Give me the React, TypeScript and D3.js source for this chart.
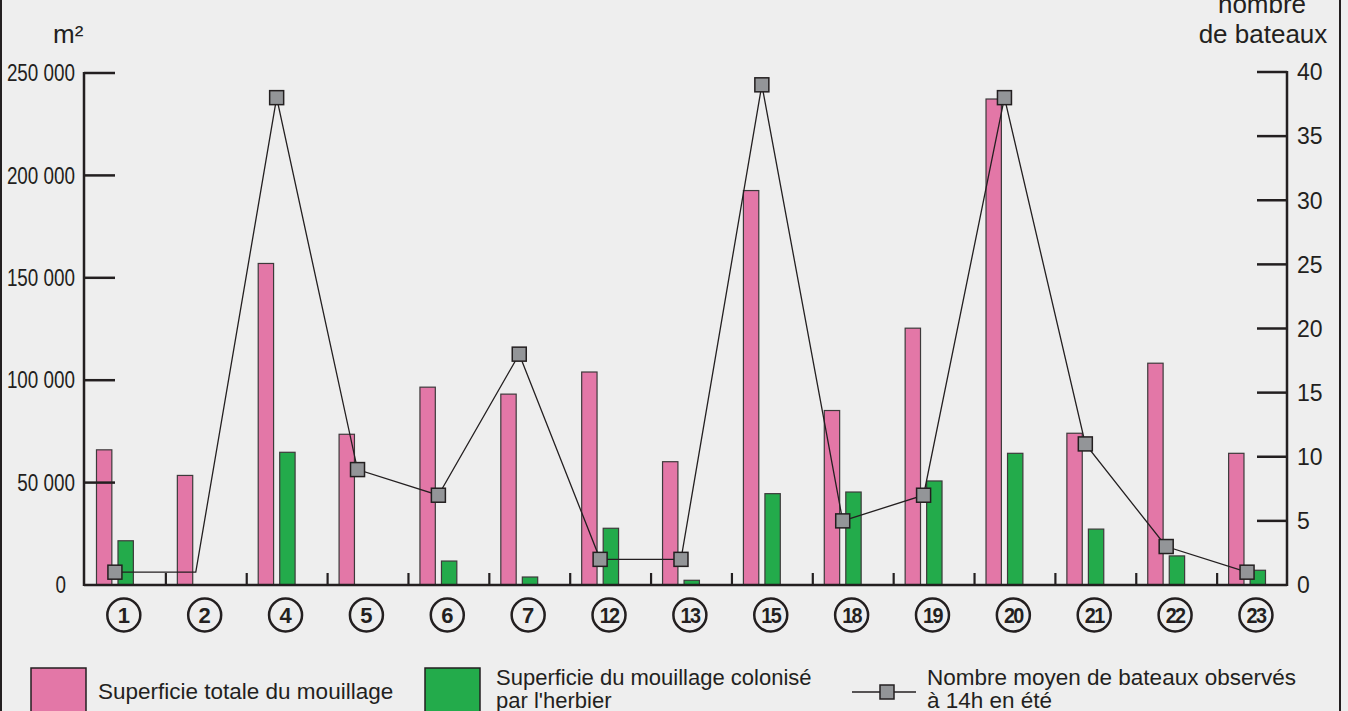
import React from 'react';
import * as d3 from 'd3';

const categories = ['1', '2', '4', '5', '6', '7', '12', '13', '15', '18', '19', '20', '21', '22', '23'];
const totalArea = [66000, 53500, 157000, 73600, 96600, 93200, 104000, 60200, 192600, 85200, 125400, 237300, 74100, 108300, 64300];
const colonizedArea = [21600, 0, 64800, 0, 11700, 3900, 27700, 2300, 44600, 45400, 50800, 64300, 27300, 14200, 7200];
const boats = [1, 1, 38, 9, 7, 18, 2, 2, 39, 5, 7, 38, 11, 3, 1];
const boatMarker = [true, false, true, true, true, true, true, true, true, true, true, true, true, true, true];
const leftTicks = [0, 50000, 100000, 150000, 200000, 250000];
const rightTicks = [0, 5, 10, 15, 20, 25, 30, 35, 40];

const W = 1348;
const H = 711;
const PINK = '#e377a7';
const GREEN = '#23ab4b';
const DARK = '#231f20';
const GREY = '#939598';
const BG = '#eeeeee';
const FONT = '"Liberation Sans", Arial, Helvetica, sans-serif';

const fr = d3.formatLocale({ thousands: ' ', grouping: [3], decimal: ',', currency: ['', ''] });
const fmt = fr.format(',');

export default function App() {
  const x = d3.scaleBand<string>().domain(categories).range([85, 1298]).padding(0);
  const bw = x.bandwidth();
  const yL = d3.scaleLinear().domain([0, 250000]).range([585, 73]);
  const yR = d3.scaleLinear().domain([0, 40]).range([585, 72]);
  const axisLeftX = 84;
  const axisRightX = 1287;
  const baseY = yL(0);

  const barW = bw * 0.19;
  const pinkX = (c: string) => (x(c) as number) + bw * 0.142;
  const greenX = (c: string) => (x(c) as number) + bw * 0.408;
  const markX = (c: string) => (x(c) as number) + bw * 0.37;
  const labelX = (c: string) => (x(c) as number) + bw * 0.48;

  const linePts: [number, number][] = categories.map((c, i) => [markX(c), yR(boats[i])]);
  const lineGen = d3.line();
  const ms = 14;

  return (
    <svg width={W} height={H} style={{ position: 'absolute', left: 0, top: 0, display: 'block' }} fontFamily={FONT}>
      <rect x={0} y={0} width={W} height={H} fill={BG} />
      <rect x={1} y={-10} width={1339} height={740} fill={BG} stroke={DARK} strokeWidth={2} />

      {/* axis titles */}
      <text x={53} y={43} fontSize={26} fill={DARK}>m²</text>
      <text x={1262} y={13} fontSize={26} fill={DARK} textAnchor="middle">nombre</text>
      <text x={1263} y={43} fontSize={26} fill={DARK} textAnchor="middle">de bateaux</text>

      {/* bars */}
      {categories.map((c, i) => (
        <g key={'b' + c}>
          <rect x={pinkX(c)} y={yL(totalArea[i])} width={barW} height={baseY - yL(totalArea[i])}
            fill={PINK} stroke="#3d3a3b" strokeWidth={1.2} />
          {colonizedArea[i] > 0 && (
            <rect x={greenX(c)} y={yL(colonizedArea[i])} width={barW} height={baseY - yL(colonizedArea[i])}
              fill={GREEN} stroke="#3d3a3b" strokeWidth={1.2} />
          )}
        </g>
      ))}

      {/* axes */}
      <line x1={axisLeftX} x2={axisLeftX} y1={yL(250000) - 1} y2={baseY + 1} stroke={DARK} strokeWidth={2.5} />
      <line x1={axisRightX} x2={axisRightX} y1={yR(40) - 1} y2={baseY + 1} stroke={DARK} strokeWidth={2.5} />
      <line x1={axisLeftX} x2={axisRightX} y1={baseY} y2={baseY} stroke={DARK} strokeWidth={2.5} />
      {leftTicks.filter(v => v > 0).map(v => (
        <line key={'lt' + v} x1={axisLeftX} x2={axisLeftX + 31} y1={yL(v)} y2={yL(v)} stroke={DARK} strokeWidth={2.5} />
      ))}
      {leftTicks.map(v => (
        <text key={'ll' + v} transform={`translate(${v === 0 ? 66 : 75},${yL(v)}) scale(0.82,1)`}
          textAnchor="end" dy="0.36em" fontSize={23} fill={DARK}>{fmt(v)}</text>
      ))}
      {rightTicks.filter(v => v > 0).map(v => (
        <line key={'rt' + v} x1={axisRightX - 30} x2={axisRightX} y1={yR(v)} y2={yR(v)} stroke={DARK} strokeWidth={2.5} />
      ))}
      {rightTicks.map(v => (
        <text key={'rl' + v} x={1297} y={yR(v)} dy="0.36em" fontSize={23} fill={DARK}>{v}</text>
      ))}
      {categories.slice(1).map(c => (
        <line key={'xt' + c} x1={x(c) as number} x2={x(c) as number} y1={baseY} y2={baseY - 12} stroke={DARK} strokeWidth={2.2} />
      ))}

      {/* boats line */}
      <path d={lineGen(linePts) || ''} fill="none" stroke={DARK} strokeWidth={1.3} />
      {categories.map((c, i) => boatMarker[i] ? (
        <rect key={'m' + c} x={markX(c) - ms / 2} y={yR(boats[i]) - ms / 2} width={ms} height={ms}
          fill={GREY} stroke={DARK} strokeWidth={1.5} />
      ) : null)}

      {/* category labels */}
      {categories.map(c => (
        <g key={'cl' + c} transform={`translate(${labelX(c)},615)`}>
          <circle r={16.5} fill="none" stroke={DARK} strokeWidth={2.5} />
          <text textAnchor="middle" dy="0.36em" fontSize={22} fontWeight="bold" fill={DARK}
            letterSpacing={c.length > 1 ? -1.8 : 0}
            transform={c.length > 1 ? 'scale(0.9,1)' : undefined}>{c}</text>
        </g>
      ))}

      {/* legend */}
      <rect x={31} y={668} width={55} height={44} fill={PINK} stroke={DARK} strokeWidth={1.5} />
      <text x={98} y={699} fontSize={22.5} fill={DARK}>Superficie totale du mouillage</text>
      <rect x={425} y={668} width={55} height={44} fill={GREEN} stroke={DARK} strokeWidth={1.5} />
      <text x={496} y={685} fontSize={22} fill={DARK}>Superficie du mouillage colonisé</text>
      <text x={496} y={708} fontSize={22} fill={DARK}>par l'herbier</text>
      <line x1={852} x2={916} y1={692} y2={692} stroke={DARK} strokeWidth={1.3} />
      <rect x={887 - ms / 2} y={692 - ms / 2} width={ms} height={ms} fill={GREY} stroke={DARK} strokeWidth={1.5} />
      <text x={927} y={685} fontSize={22.5} fill={DARK}>Nombre moyen de bateaux observés</text>
      <text x={927} y={708} fontSize={22.5} fill={DARK}>à 14h en été</text>
    </svg>
  );
}
